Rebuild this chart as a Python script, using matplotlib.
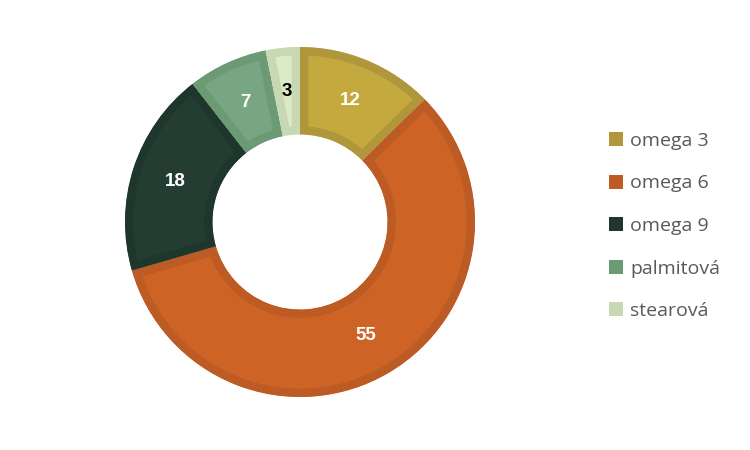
import numpy as np
import matplotlib.pyplot as plt
from matplotlib.patches import Patch, Wedge

plt.rcParams['font.family'] = ['Open Sans', 'DejaVu Sans']

labels = ['omega 3', 'omega 6', 'omega 9', 'palmitová', 'stearová']
values = [12, 55, 18, 7, 3]
fills = ['#C4A93F', '#CD6325', '#243D33', '#79A682', '#DDEAC6']
edges = ['#B0973B', '#BC5B23', '#1E362C', '#6B9A74', '#C8D8B4']
text_colors = ['white', 'white', 'white', 'white', 'black']

fig = plt.figure(figsize=(7.5, 4.5), dpi=100)
ax = fig.add_axes([125 / 750, 53 / 450, 350 / 750, 350 / 450])

wedges, _ = ax.pie(values, radius=1, startangle=90, counterclock=False,
                   colors=fills, wedgeprops=dict(width=0.5, linewidth=0))

# darker border kept on the inside of each wedge
for w, ec in zip(wedges, edges):
    clip = Wedge(w.center, w.r, w.theta1, w.theta2, width=w.width,
                 transform=ax.transData)
    w.set_edgecolor(ec)
    w.set_linewidth(12)
    w.set_clip_on(True)
    w.set_clip_path(clip)

total = sum(values)
ang = 90.0
for v, tc in zip(values, text_colors):
    span = v / total * 360
    mid = np.deg2rad(ang - span / 2)
    r = 0.75
    ax.text(r * np.cos(mid), r * np.sin(mid), str(v), ha='center', va='center',
            color=tc, fontsize=13.5, fontweight='bold', family='Liberation Sans')
    ang -= span

ax.set_xlim(-1, 1)
ax.set_ylim(-1, 1)
ax.set_aspect('equal')
ax.axis('off')

handles = [Patch(facecolor=c, edgecolor='none') for c in edges]
fig.legend(handles, labels, loc='center left', bbox_to_anchor=(591 / 750, 1 - 226 / 450),
           frameon=False, fontsize=14, labelcolor='#595959',
           handlelength=0.75, handleheight=0.72, handletextpad=0.36, labelspacing=1.26)

fig.savefig('out.png')
